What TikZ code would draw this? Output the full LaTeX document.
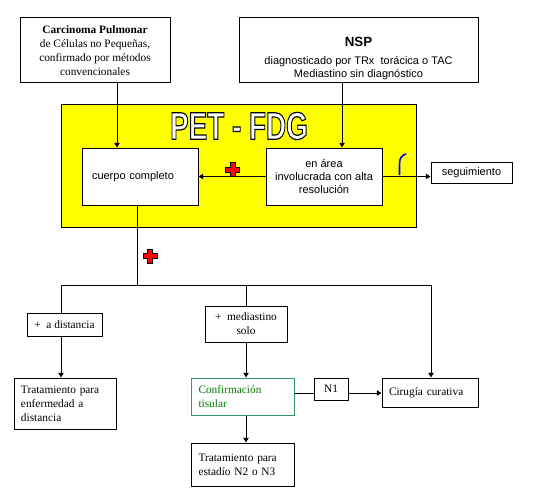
\documentclass[tikz,border=0pt]{standalone}
\usepackage{fontspec}
\setmainfont{Liberation Serif}
\setsansfont{Liberation Sans}
\usepackage{xcolor}
\usetikzlibrary{arrows.meta}

\definecolor{petyellow}{RGB}{255,255,0}
\definecolor{tisgreen}{RGB}{0,128,0}
\definecolor{tisframe}{RGB}{51,153,102}

% outlined letters: white fill, black stroke
\newcommand{\hollowtext}[1]{{\color{white}\special{pdf:literal 2 Tr 0.9 w 0 0 0 RG}#1\special{pdf:literal 0 Tr}}}

\tikzset{
  box/.style={draw, line width=0.75pt, fill=white, inner sep=0pt,
    font=\fontsize{8.5}{10.5}\selectfont},
  sfbox/.style={box, font=\sffamily\fontsize{8.25}{10}\selectfont},
  ln/.style={line width=0.75pt},
  arr/.style={ln, -{Triangle[length=3.5pt,width=4pt]}},
  redplus/.pic={
    \draw[fill=red, line width=0.5pt] (-2.4,-7) -- (2.4,-7) -- (2.4,-2.4) -- (7,-2.4) -- (7,2.4) -- (2.4,2.4)
      -- (2.4,7) -- (-2.4,7) -- (-2.4,2.4) -- (-7,2.4) -- (-7,-2.4) -- (-2.4,-2.4) -- cycle;
  }
}

\begin{document}
\begin{tikzpicture}[x=0.75pt, y=-0.75pt]
            \useasboundingbox (0,0) rectangle (550,503);

            % top boxes
            \node[box, minimum width=112.5pt, minimum height=48.75pt, align=center] (carcinoma) at (95,50.5)
              {\textbf{Carcinoma Pulmonar}\\de Células no Pequeñas,\\confirmado por métodos\\convencionales};
            \node[sfbox, minimum width=179.25pt, minimum height=48.75pt, align=center] (nsp) at (358.5,50.5)
              {\rule{0pt}{19pt}{\fontsize{10}{12}\selectfont\bfseries NSP}\\[3.5pt]diagnosticado por TRx\ \ torácica o TAC\\Mediastino sin diagnóstico};

            % PET - FDG
            \node[draw, line width=0.75pt, fill=petyellow, minimum width=266.25pt, minimum height=91.5pt] (pet) at (238.5,166) {};
            \node[font=\sffamily\bfseries\fontsize{29}{30}\selectfont, inner sep=0pt] (pettitle) at (239,126)
              {\scalebox{0.72}[1]{\hollowtext{PET - FDG}}};
            \node[sfbox, minimum width=87pt, minimum height=42.75pt, text width=72pt, align=left] (cuerpo) at (140,176.5) {cuerpo completo};
            \node[sfbox, minimum width=87pt, minimum height=42.75pt, align=center] (area) at (324,176.5)
              {en área\\involucrada con alta\\resolución};
            \node[sfbox, minimum width=60.75pt, minimum height=15.75pt] (seguim) at (471.5,172.5) {seguimiento};

            % lower boxes
            \node[box, minimum width=56.25pt, minimum height=17.25pt] (distancia) at (64.5,324.5) {+\ \ a distancia};
            \node[box, minimum width=76.5pt, minimum height=38.25pt, text width=66pt, align=left] (tratdist) at (65,403.5)
              {Tratamiento para\\enfermedad a\\distancia};
            \node[box, minimum width=61.5pt, minimum height=27pt, align=center] (mediast) at (246,324) {+\ \ mediastino\\solo};
            \node[box, draw=tisframe, text=tisgreen, minimum width=77.25pt, minimum height=27.75pt, text width=66pt, align=left] (confirm) at (242.5,396.5)
              {Confirmación\\tisular};
            \node[box, minimum width=77.25pt, minimum height=32.25pt, text width=66pt, align=left] (tratN) at (242.5,464.5)
              {Tratamiento para\\estadío N2 o N3};
            \node[box, minimum width=25.5pt, minimum height=16.5pt] (nuno) at (331,389) {N1};
            \node[box, minimum width=72pt, minimum height=21.75pt, text width=61.5pt, align=left] (cirugia) at (430,392.5) {Cirugía curativa};

            % columns and bus
            \coordinate (colC) at (117,0);
            \coordinate (colN) at (342,0);
            \coordinate (busL) at (61,285);
            \coordinate (busT) at (137,285);
            \coordinate (busM) at (246,285);
            \coordinate (busR) at (431,285);
            \coordinate (rowN) at (0,393);

            \draw[arr] (carcinoma.south -| colC) -- (cuerpo.north -| colC); % carcinoma-cuerpo
            \draw[arr] (nsp.south -| colN) -- (area.north -| colN); % nsp-area
            \draw[arr] (area.west) -- (cuerpo.east); % area-cuerpo
            \draw[arr] (area.east) -- (area.east -| seguim.west); % area-seguimiento
            \draw[ln] (cuerpo.south -| busT) -- (busT);
            \draw[ln] (busL) -- (busR);
            \draw[ln] (busL) -- (distancia.north -| busL);
            \draw[arr] (distancia.south -| busL) -- (tratdist.north -| busL);
            \draw[ln] (busM) -- (mediast.north -| busM);
            \draw[arr] (mediast.south -| busM) -- (confirm.north -| busM);
            \draw[arr] (confirm.south -| busM) -- (tratN.north -| busM);
            \draw[arr] (busR) -- (cirugia.north -| busR);
            \draw[ln] (confirm.east |- rowN) -- (nuno.west |- rowN); % confirm-N1
            \draw[arr] (nuno.east |- rowN) -- (cirugia.west |- rowN); % N1-cirugia

            % marks
            \pic at (232.5,169.5) {redplus};
            \pic at (150,256) {redplus};
            \draw[blue, line width=1.2pt] (399.5,175) -- (399.5,164) .. controls (399.5,158) and (402,155) .. (406,154);
        \end{tikzpicture}
\end{document}
